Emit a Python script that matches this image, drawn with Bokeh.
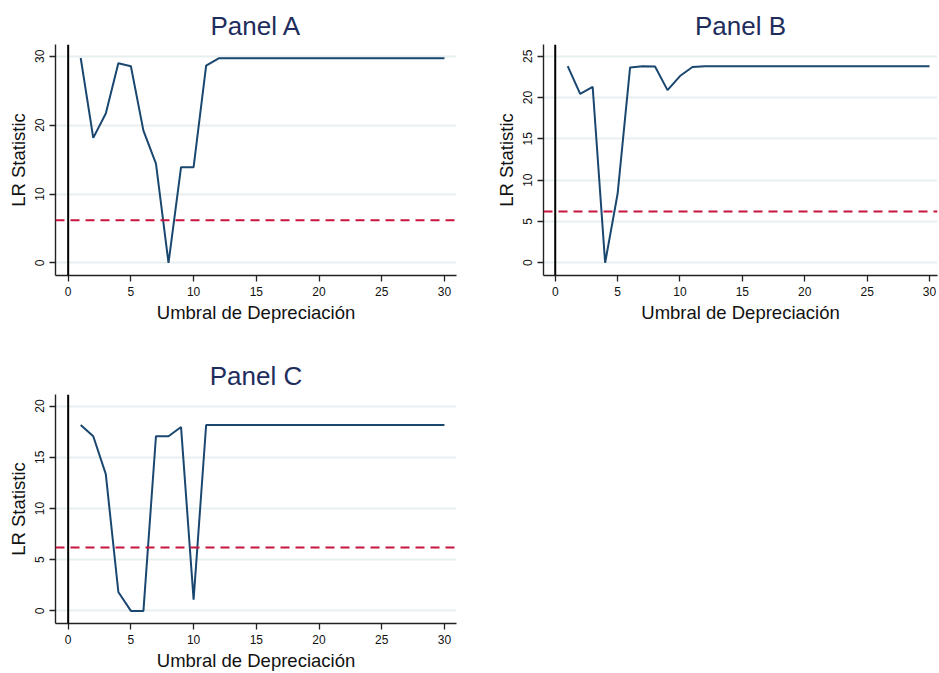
from bokeh.plotting import figure
from bokeh.models import Range1d, Span, FixedTicker
from bokeh.layouts import column, row
from bokeh.embed import file_html
from bokeh.resources import INLINE

# Depreciation thresholds (1..30) and LR statistics for each panel
umbral = list(range(1, 31))

lr_panel_a = [29.75, 18.15, 21.7, 29.0, 28.55, 19.2, 14.4, 0.0, 13.9, 13.9,
              28.65, 29.7] + [29.7] * 18
lr_panel_b = [23.8, 20.45, 21.3, 0.0, 8.35, 23.65, 23.8, 23.75, 20.9, 22.6,
              23.7, 23.8] + [23.8] * 18
lr_panel_c = [18.15, 17.05, 13.35, 1.85, 0.0, 0.0, 17.05, 17.05, 17.95, 1.1,
              18.15] + [18.15] * 19

critical_value = 6.2

x_ticks = [0, 5, 10, 15, 20, 25, 30]
y_ticks_a = [0, 10, 20, 30]
y_ticks_b = [0, 5, 10, 15, 20, 25]
y_ticks_c = [0, 5, 10, 15, 20]

FONT = "Liberation Sans"
LINE_COLOR = "#1a476f"
CRIT_COLOR = "#c8143f"
TITLE_COLOR = "#1e2d5c"
AXIS_COLOR = "#222222"
GRID_COLOR = "#e8eff1"


def make_panel(title, y, y_ticks, width, height, borders, xr, yr):
    left, right, top, bottom = borders
    p = figure(width=width, height=height, output_backend="svg",
               toolbar_location=None, x_range=Range1d(*xr), y_range=Range1d(*yr),
               min_border_left=left, min_border_right=right,
               min_border_top=top, min_border_bottom=bottom)
    p.outline_line_color = None
    p.background_fill_color = "white"
    p.border_fill_color = "white"

    p.title.text = title
    p.title.align = "center"
    p.title.text_font = FONT
    p.title.text_font_size = "26px"
    p.title.text_font_style = "normal"
    p.title.text_color = TITLE_COLOR
    p.title.standoff = 8

    p.xgrid.visible = False
    p.ygrid.ticker = FixedTicker(ticks=y_ticks)
    p.ygrid.grid_line_color = GRID_COLOR
    p.ygrid.grid_line_width = 2

    p.xaxis.ticker = FixedTicker(ticks=x_ticks)
    p.yaxis.ticker = FixedTicker(ticks=y_ticks)
    p.xaxis.minor_tick_line_color = None
    p.yaxis.minor_tick_line_color = None
    for ax in (p.xaxis[0], p.yaxis[0]):
        ax.axis_line_color = AXIS_COLOR
        ax.axis_line_width = 1.4
        ax.major_tick_line_color = AXIS_COLOR
        ax.major_tick_line_width = 1.3
        ax.major_tick_out = 6
        ax.major_tick_in = 0
        ax.major_label_text_font = FONT
        ax.major_label_text_font_size = "12px"
        ax.major_label_text_color = "#111111"
        ax.major_label_standoff = 5
        ax.axis_label_text_font = FONT
        ax.axis_label_text_font_size = "18.5px"
        ax.axis_label_text_font_style = "normal"
        ax.axis_label_text_color = "#111111"
    p.yaxis.major_label_orientation = "vertical"
    p.xaxis.axis_label = "Umbral de Depreciación"
    p.yaxis.axis_label = "LR Statistic"
    p.xaxis.axis_label_standoff = 3
    p.yaxis.axis_label_standoff = 4

    p.add_layout(Span(location=0, dimension="height", line_color="black",
                      line_width=2))
    p.add_layout(Span(location=critical_value, dimension="width",
                      line_color=CRIT_COLOR, line_width=2, line_dash="9 6"))
    p.line(umbral, y, line_color=LINE_COLOR, line_width=2)
    return p


pa = make_panel("Panel A", lr_panel_a, y_ticks_a, 470, 350, (55, 14, 44, 75),
                (-1.01, 30.96), (-1.83, 31.71))
pb = make_panel("Panel B", lr_panel_b, y_ticks_b, 469, 350, (73, 2, 44, 75),
                (-0.94, 30.64), (-1.54, 26.42))
pc = make_panel("Panel C", lr_panel_c, y_ticks_c, 470, 323, (55, 14, 44, 48),
                (-1.01, 30.96), (-1.23, 21.13))

layout = column(row(pa, pb), pc)
open("out.html", "w").write(file_html(layout, INLINE))
